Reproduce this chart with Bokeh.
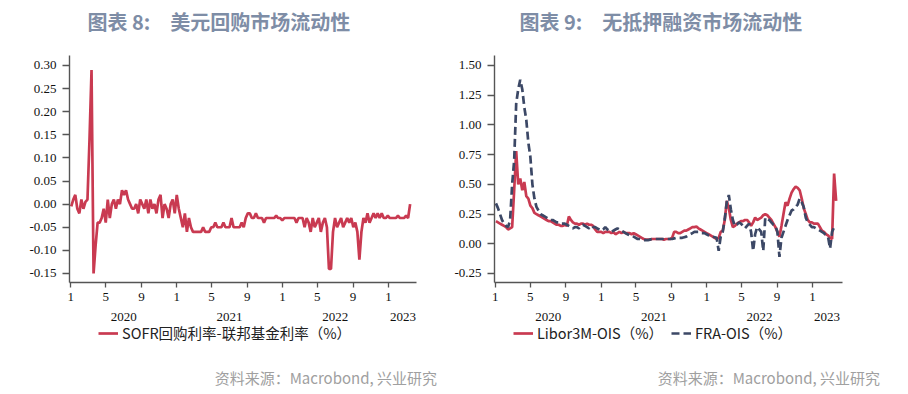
import pandas as pd
from bokeh.plotting import figure
from bokeh.layouts import row, column
from bokeh.models import (Range1d, MonthsTicker, FixedTicker, CustomJSTickFormatter,
                          NumeralTickFormatter, LinearAxis, Legend, Label, Div)
from bokeh.embed import file_html
from bokeh.resources import INLINE

# ---------------- data (weekly, Fridays from 2020-01-03) ----------------
start_date = "2020-01-03"

sofr_ff = [
    -0.005, 0.01, 0.02, -0.01, -0.02, 0.01, -0.01, 0.005, 0.01,
    0.14, 0.29, -0.15, -0.09, -0.04,
    -0.04, -0.03, -0.01, -0.04, 0.01, -0.03,
    0.0, 0.01, -0.01, 0.01, 0.0,
    0.03, 0.02, 0.03, 0.01,
    0.0, -0.01, -0.01, 0.0, -0.02, 0.01, 0.0, -0.01, 0.01, -0.02, 0.01, -0.01, 0.0, -0.02, 0.01,
    0.02, -0.03, 0.0, -0.01, -0.03, 0.0, 0.01, -0.02, 0.02,
    -0.01, -0.03, -0.05, -0.02, -0.06, -0.03, -0.05, -0.06,
    -0.06, -0.06, -0.06, -0.06, -0.05, -0.06, -0.06, -0.06,
    -0.05, -0.05, -0.04, -0.05, -0.05, -0.05, -0.04, -0.05, -0.05, -0.05, -0.03, -0.05, -0.05, -0.05, -0.05, -0.04,
    -0.05, -0.03, -0.02,
    -0.02, -0.03, -0.03, -0.02, -0.03, -0.03, -0.03, -0.04, -0.03, -0.03, -0.03, -0.03, -0.03, -0.025,
    -0.03, -0.03, -0.035, -0.03, -0.03, -0.03, -0.03, -0.03, -0.03, -0.04, -0.03, -0.03, -0.03,
    -0.05, -0.03, -0.04, -0.06, -0.03, -0.05, -0.04, -0.03, -0.06, -0.04, -0.03, -0.05,
    -0.14, -0.14, -0.06,
    -0.03, -0.05, -0.04, -0.03, -0.05, -0.04, -0.03, -0.04, -0.03, -0.05, -0.04, -0.06,
    -0.12, -0.06,
    -0.03, -0.04, -0.02, -0.04, -0.03, -0.02, -0.03, -0.02, -0.03, -0.02, -0.03, -0.03,
    -0.025, -0.03, -0.03, -0.03, -0.03, -0.025, -0.03, -0.03, -0.03, -0.025, -0.03, 0.0,
]

libor_ois = [
    0.19, 0.18, 0.17, 0.16, 0.15, 0.14,
    0.12, 0.13, 0.14,
    0.45, 0.78, 0.50, 0.55, 0.45, 0.52, 0.40, 0.38, 0.32, 0.30, 0.26, 0.25,
    0.24, 0.23, 0.22, 0.21, 0.20, 0.19, 0.19, 0.18, 0.17, 0.16, 0.16, 0.15, 0.15, 0.16, 0.15,
    0.23, 0.20, 0.18, 0.17, 0.17, 0.16, 0.17, 0.17, 0.16, 0.17, 0.16, 0.16, 0.15,
    0.12, 0.10, 0.10, 0.10, 0.09, 0.10, 0.10, 0.10, 0.09, 0.10, 0.08, 0.09, 0.10, 0.09,
    0.10, 0.09, 0.09, 0.09, 0.08, 0.09, 0.08, 0.07,
    0.06, 0.05, 0.04, 0.035, 0.035, 0.035, 0.04, 0.04, 0.04, 0.04, 0.04, 0.04, 0.035, 0.04,
    0.04, 0.04, 0.05,
    0.10, 0.10, 0.09, 0.09, 0.10, 0.11, 0.11, 0.12, 0.13, 0.14, 0.14, 0.145, 0.13, 0.12,
    0.11, 0.10, 0.09, 0.08, 0.07, 0.06, 0.05, 0.04, 0.05, 0.10, 0.11,
    0.20, 0.36, 0.30, 0.20, 0.14, 0.15, 0.17, 0.18, 0.19, 0.19,
    0.20, 0.20, 0.18, 0.15, 0.18, 0.22, 0.20, 0.21, 0.22, 0.24,
    0.25, 0.24, 0.22, 0.20, 0.17, 0.14, 0.10, 0.06, 0.15, 0.25,
    0.35, 0.32, 0.38, 0.43, 0.46, 0.48, 0.47, 0.45, 0.38, 0.30,
    0.25, 0.20, 0.18, 0.18, 0.17, 0.17, 0.17, 0.14, 0.11, 0.10,
    0.08, 0.07, 0.05, 0.04, 0.59, 0.36,
]

fra_ois = [
    0.34, 0.30, 0.25, 0.20, 0.17, 0.15, 0.14, 0.20, 0.50, 0.70,
    1.18, 1.30, 1.38, 1.30, 1.15, 1.04, 0.85, 0.73, 0.50, 0.38,
    0.31, 0.28, 0.25, 0.24, 0.23, 0.22, 0.21, 0.20, 0.20, 0.19,
    0.18, 0.18, 0.17, 0.17, 0.17, 0.16, 0.15, 0.14, 0.13, 0.14,
    0.14, 0.13, 0.15, 0.16, 0.15, 0.14, 0.13, 0.15, 0.14, 0.14,
    0.13, 0.12, 0.11, 0.12, 0.14, 0.12, 0.11, 0.10, 0.11, 0.12,
    0.13, 0.12, 0.11, 0.10, 0.09, 0.08, 0.07, 0.07, 0.06, 0.05,
    0.04, 0.04, 0.035, 0.03, 0.03, 0.03, 0.035, 0.04, 0.04, 0.04,
    0.04, 0.04, 0.04, 0.04, 0.04, 0.04, 0.04, 0.04, 0.045, 0.05,
    0.05, 0.05, 0.05, 0.055, 0.06, 0.07, 0.08, 0.09, 0.10, 0.10,
    0.10, 0.09, 0.09, 0.09, 0.08, 0.07, 0.06, 0.06, 0.055, 0.05,
    -0.06, 0.06, 0.10, 0.21, 0.35, 0.41, 0.29, 0.20, 0.15, 0.16,
    0.18, 0.17, 0.15, 0.13, 0.15, 0.17, 0.10, -0.06, 0.08, 0.14,
    0.12, 0.10, -0.06, 0.22, 0.21, 0.20, 0.18, 0.16, 0.15, 0.10,
    -0.11, 0.05, 0.10, 0.15, 0.20, 0.24, 0.28, 0.29, 0.31, 0.33,
    0.38, 0.35, 0.31, 0.22, 0.18, 0.16, 0.14, 0.14, 0.13, 0.12,
    0.11, 0.10, 0.09, 0.07, 0.06, -0.04, 0.10, 0.14,
]

left_y_ticks = [-0.15, -0.10, -0.05, 0.0, 0.05, 0.10, 0.15, 0.20, 0.25, 0.30]
right_y_ticks = [-0.25, 0.0, 0.25, 0.50, 0.75, 1.00, 1.25, 1.50]
month_ticks = [0, 4, 8]  # Jan, May, Sep
year_label_pos = ["2020-07-02", "2021-07-02", "2022-07-02", "2023-02-20"]

left_title = "图表 8:\u2002\u2002美元回购市场流动性"
right_title = "图表 9:\u2002\u2002无抵押融资市场流动性"
source_text = "资料来源：Macrobond, 兴业研究"
left_legend = ["SOFR回购利率-联邦基金利率（%）"]
right_legend = ["Libor3M-OIS（%）", "FRA-OIS（%）"]

RED = "#c93a51"
NAVY = "#3c4866"
AXIS = "#555555"
TITLE_C = "#7e8da6"
CJK = "Noto Sans CJK SC"
SERIF = "Liberation Serif"
HEAD_H = 55
MAIN_H = 268
LEG_H = 31
SRC_H = 40


def dates_for(vals):
    return pd.date_range(start_date, periods=len(vals), freq="7D")


def ms(s):
    return pd.Timestamp(s).value // 10**6


def blank(width, height, bl, br):
    f = figure(width=width, height=height, x_range=Range1d(0, width - bl - br),
               y_range=Range1d(0, height), output_backend="svg", toolbar_location=None,
               x_axis_location=None, y_axis_location=None,
               min_border_left=bl, min_border_right=br, min_border_top=0, min_border_bottom=0)
    f.outline_line_color = None
    f.grid.visible = False
    f.border_fill_color = "white"
    f.background_fill_color = "white"
    return f


def header(width, bl, br, text, offset):
    h = blank(width, HEAD_H, bl, br)
    h.add_layout(Label(x=offset, y=HEAD_H - 21, text=text, text_align="left",
                       text_baseline="middle", text_font=CJK, text_font_size="20px",
                       text_font_style="bold", text_color=TITLE_C))
    return h


def main_plot(width, bl, br, x0, x1, y0, y1, y_ticks):
    p = figure(width=width, height=MAIN_H, x_axis_type="datetime",
               x_range=Range1d(pd.Timestamp(x0), pd.Timestamp(x1)), y_range=Range1d(y0, y1),
               output_backend="svg", toolbar_location=None,
               min_border_left=bl, min_border_right=br, min_border_top=0, min_border_bottom=41)
    p.outline_line_color = None
    p.grid.visible = False
    p.background_fill_color = "white"
    p.border_fill_color = "white"
    xa = p.xaxis[0]
    xa.ticker = MonthsTicker(months=month_ticks)
    xa.formatter = CustomJSTickFormatter(code="return String(new Date(tick).getUTCMonth() + 1)")
    ya = p.yaxis[0]
    ya.ticker = FixedTicker(ticks=y_ticks)
    ya.formatter = NumeralTickFormatter(format="0.00")
    for ax in (xa, ya):
        ax.axis_line_color = AXIS
        ax.axis_line_width = 1.4
        ax.major_tick_line_color = AXIS
        ax.major_tick_line_width = 1.3
        ax.major_tick_in = 0
        ax.minor_tick_line_color = None
        ax.major_label_text_font = SERIF
        ax.major_label_text_font_size = "13px"
        ax.major_label_text_color = "#111111"
    xa.major_tick_out = 5
    xa.major_label_standoff = 5
    ya.major_tick_out = 7
    ya.major_label_standoff = 6
    yr = LinearAxis(ticker=FixedTicker(ticks=[ms(d) for d in year_label_pos]),
                    formatter=CustomJSTickFormatter(code="return String(new Date(tick).getUTCFullYear())"),
                    axis_line_color=None, major_tick_line_color=None, minor_tick_line_color=None,
                    major_label_standoff=3, major_label_text_font=SERIF,
                    major_label_text_font_size="13px", major_label_text_color="#111111")
    p.add_layout(yr, "below")
    return p


def legend_strip(width, bl, br, styles, labels, x):
    f = blank(width, LEG_H, bl, br)
    items = []
    for st, lab in zip(styles, labels):
        r = f.line(x=[float("nan")], y=[float("nan")], **st)
        items.append((lab, [r]))
    f.add_layout(Legend(items=items, location=(x, LEG_H - 20), orientation="horizontal",
                        border_line_alpha=0, background_fill_alpha=0, margin=0, padding=0,
                        label_text_font=CJK, label_text_font_size="14.5px",
                        label_text_color="#222222", glyph_width=20, glyph_height=12,
                        label_height=18, label_standoff=4, spacing=8))
    return f


def source_div(width, right_edge):
    html = ('<div style="width:%dpx; text-align:right; color:#a0a0a0; '
            'font-family:\'Noto Sans CJK SC\'; font-size:15px; line-height:18px; '
            'padding-top:15px; white-space:nowrap;">%s</div>' % (right_edge, source_text))
    return Div(text=html, width=width, height=SRC_H, margin=0)


red_style = dict(line_color=RED, line_width=2.7)
navy_style = dict(line_color=NAVY, line_width=2.7, line_dash="8 4")

# ---------------- left panel ----------------
LW, LBL, LBR = 448, 69, 32
p1 = main_plot(LW, LBL, LBR, "2019-12-28", "2023-04-08", -0.1695, 0.3216, left_y_ticks)
p1.line(dates_for(sofr_ff), sofr_ff, **red_style)
left_col = column(header(LW, LBL, LBR, left_title, 18), p1,
                  legend_strip(LW, LBL, LBR, [red_style], left_legend, 29),
                  source_div(LW, 437), spacing=0)

# ---------------- right panel ----------------
RW, RBL, RBR = 460, 46, 66
p2 = main_plot(RW, RBL, RBR, "2019-12-29", "2023-04-15", -0.326, 1.584, right_y_ticks)
p2.line(dates_for(libor_ois), libor_ois, **red_style)
p2.line(dates_for(fra_ois), fra_ois, **navy_style)
right_col = column(header(RW, RBL, RBR, right_title, 25), p2,
                   legend_strip(RW, RBL, RBR, [red_style, navy_style], right_legend, 19),
                   source_div(RW, 432), spacing=0)

layout = row(left_col, right_col, spacing=0)
open("out.html", "w").write(file_html(layout, INLINE))
